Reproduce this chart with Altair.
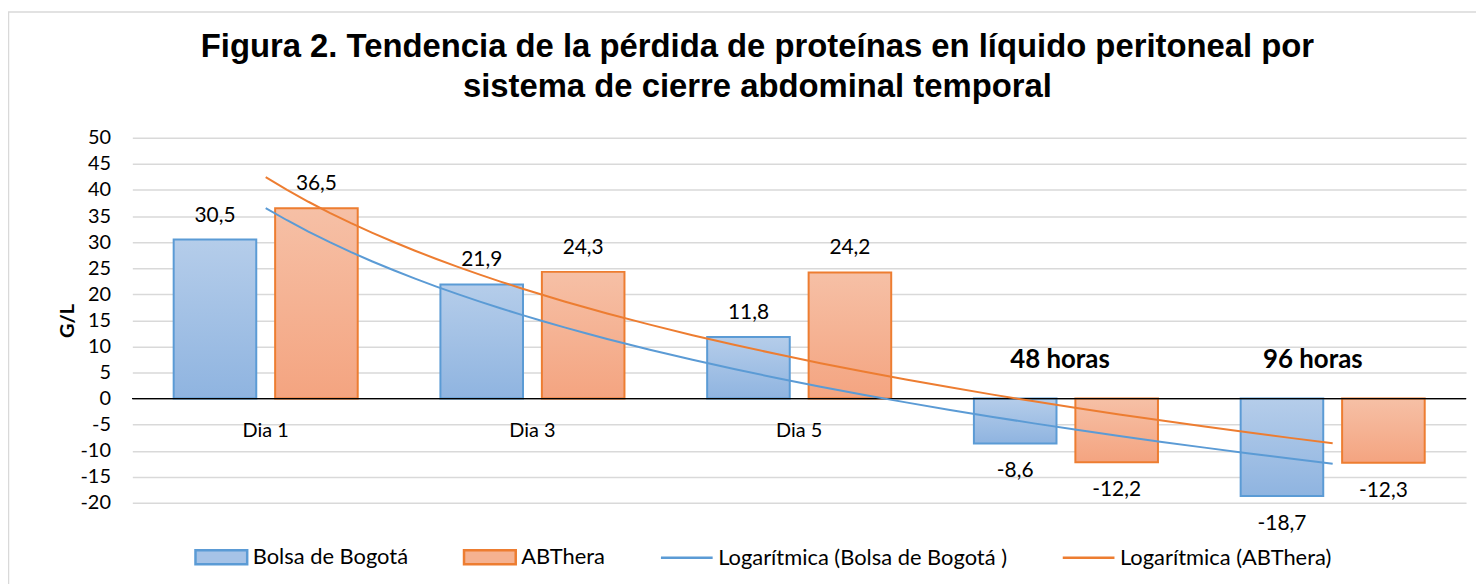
import altair as alt
import pandas as pd

# ---- data ----
categories = ["Dia 1", "Dia 3", "Dia 5", "48 horas", "96 horas"]
axis_labels = ["Dia 1", "Dia 3", "Dia 5", "", ""]
period_labels = ["", "", "", "48 horas", "96 horas"]
bolsa = [30.5, 21.9, 11.8, -8.6, -18.7]
abthera = [36.5, 24.3, 24.2, -12.2, -12.3]
series_names = ["Bolsa de Bogotá", "ABThera"]
legend_names = ["Bolsa de Bogotá", "ABThera",
                "Logarítmica (Bolsa de Bogotá )", "Logarítmica (ABThera)"]
y_ticks = [-20, -15, -10, -5, 0, 5, 10, 15, 20, 25, 30, 35, 40, 45, 50]

rows = []
for i, c in enumerate(categories):
    for s, vals in zip(series_names, [bolsa, abthera]):
        v = vals[i]
        rows.append({"category": c, "idx": i + 1, "series": s, "value": v,
                     "label": f"{v:.1f}".replace(".", ",")})
df = pd.DataFrame(rows)
cat_df = pd.DataFrame({"category": categories, "axis_label": axis_labels,
                       "period": period_labels})
leg_df = pd.DataFrame({"entry": legend_names})

BLUE_LINE = "#5b9bd5"
ORANGE_LINE = "#ed7d31"
grad_b = {"gradient": "linear", "x1": 0, "x2": 0, "y1": 0, "y2": 1,
          "stops": [{"offset": 0, "color": "#b5cdea"}, {"offset": 1, "color": "#8fb4e0"}]}
grad_o = {"gradient": "linear", "x1": 0, "x2": 0, "y1": 0, "y2": 1,
          "stops": [{"offset": 0, "color": "#f6c0a6"}, {"offset": 1, "color": "#f4a480"}]}

W, H = 1341, 367
FONT = "Lato"

is_b = alt.datum.series == "Bolsa de Bogotá"

# explicit domains so that every layer's (independent) band scale is identical
x_band = alt.X("category:N", sort=categories,
               scale=alt.Scale(domain=categories, paddingInner=0.31, paddingOuter=0.155),
               axis=None)
x_off = alt.XOffset("series:N", sort=series_names,
                    scale=alt.Scale(domain=series_names, paddingInner=0.186, paddingOuter=0))
y_scale = alt.Scale(domain=[-20, 50], nice=False, zero=False)
y_axis = alt.Axis(values=y_ticks, title="G/L", grid=True, gridColor="#d9d9d9",
                  gridWidth=1.5, ticks=False, domain=False, labelPadding=22,
                  labelOverlap=False, labelExpr="'' + datum.value",
                  labelFont=FONT, labelFontSize=20, labelColor="#000000",
                  titleFont=FONT, titleFontSize=20, titleFontWeight="bold",
                  titleColor="#000000", titlePadding=3)
y_enc = alt.Y("value:Q", scale=y_scale, axis=y_axis, title="G/L")
y_zero = alt.Y(datum=0, scale=y_scale, axis=y_axis, title="G/L")

bars = alt.Chart(df).mark_bar(strokeWidth=2).encode(
    x=x_band, xOffset=x_off, y=y_enc,
    fill=alt.condition(is_b, alt.value(grad_b), alt.value(grad_o)),
    stroke=alt.condition(is_b, alt.value(BLUE_LINE), alt.value(ORANGE_LINE)),
)

zero = alt.Chart(cat_df).mark_rule(color="#000000", strokeWidth=1).encode(y=y_zero)

pos_labels = alt.Chart(df).transform_filter("datum.value >= 0").mark_text(
    font=FONT, fontSize=21, color="#000000", baseline="middle", dy=-24).encode(
    x=x_band, xOffset=x_off, y=y_enc, text="label:N")
neg_labels = alt.Chart(df).transform_filter("datum.value < 0").mark_text(
    font=FONT, fontSize=21, color="#000000", baseline="middle", dy=28).encode(
    x=x_band, xOffset=x_off, y=y_enc, text="label:N")

cat_labels = alt.Chart(cat_df).mark_text(
    font=FONT, fontSize=20, color="#000000", baseline="middle", dy=33).encode(
    x=x_band, y=y_zero, text="axis_label:N")
period_48 = alt.Chart(cat_df).transform_filter("datum.period == '48 horas'").mark_text(
    font=FONT, fontSize=26, fontWeight="bold", color="#000000", baseline="middle",
    dy=-39, dx=-6).encode(
    x=x_band, y=y_zero, text="period:N")
period_96 = alt.Chart(cat_df).transform_filter("datum.period == '96 horas'").mark_text(
    font=FONT, fontSize=26, fontWeight="bold", color="#000000", baseline="middle",
    dy=-39, dx=-20).encode(
    x=x_band, y=y_zero, text="period:N")

trend = alt.Chart(df).transform_regression(
    "idx", "value", method="log", groupby=["series"], extent=[1, 5]
).mark_line(strokeWidth=2).encode(
    x=alt.X("idx:Q", scale=alt.Scale(domain=[0.5, 5.5], nice=False, zero=False), axis=None),
    y=y_enc,
    detail="series:N",
    stroke=alt.condition(is_b, alt.value(BLUE_LINE), alt.value(ORANGE_LINE)),
)

rect_path = "M-1,-0.27L1,-0.27L1,0.27L-1,0.27Z"
line_path = "M-1,0L1,0"
leg = alt.Legend(title=None, orient="none", legendX=62, legendY=394, direction="horizontal",
                 columns=4, columnPadding=50, labelFont=FONT, labelFontSize=22,
                 labelColor="#000000", labelOffset=4, symbolSize=2704,
                 symbolStrokeWidth=2.5, symbolOpacity=1, labelLimit=400)
legend_layer = alt.Chart(leg_df).transform_filter("false").mark_point(
    filled=False, opacity=1).encode(
    fill=alt.Fill("entry:N", scale=alt.Scale(domain=legend_names,
                  range=["#a6c3e7", "#f5b291", "transparent", "transparent"]), legend=leg),
    stroke=alt.Stroke("entry:N", scale=alt.Scale(domain=legend_names,
                      range=[BLUE_LINE, ORANGE_LINE, BLUE_LINE, ORANGE_LINE]), legend=leg),
    shape=alt.Shape("entry:N", scale=alt.Scale(domain=legend_names,
                    range=[rect_path, rect_path, line_path, line_path]), legend=leg),
)

border = alt.Chart(leg_df.head(1)).mark_rect(fill="transparent", stroke="#d9d9d9",
                                            strokeWidth=1.5).encode(
    x=alt.value(-124.5), x2=alt.value(W + 60), y=alt.value(-126.5), y2=alt.value(H + 120))

chart = alt.layer(
    border, bars, zero, trend, pos_labels, neg_labels, cat_labels, period_48, period_96,
    legend_layer
).resolve_scale(x="independent").properties(
    width=W, height=H, background="white",
    title=alt.TitleParams(
        text=["Figura 2. Tendencia de la pérdida de proteínas en líquido peritoneal por",
              "sistema de cierre abdominal temporal"],
        font="Liberation Sans", fontSize=33, fontWeight="bold", color="#000000",
        anchor="middle", frame="group", dx=-42, offset=-126, baseline="bottom",
        lineHeight=40),
    padding={"left": 125, "top": 129, "right": 10, "bottom": 80},
    autosize=alt.AutoSizeParams(type="none"),
).configure_view(strokeWidth=0, stroke="transparent")

chart.save("out.html", embed_options={"renderer": "svg", "actions": False})
